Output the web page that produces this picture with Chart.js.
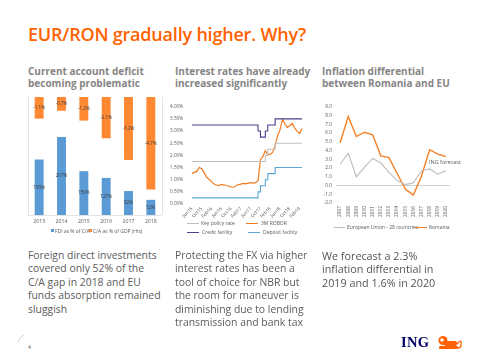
<!DOCTYPE html>
<html><head><meta charset="utf-8">
<script src="https://cdn.jsdelivr.net/npm/chart.js@4"></script>
<style>
html,body{margin:0;padding:0}
body{width:480px;height:360px;background:#fff;position:relative;overflow:hidden;font-family:'Open Sans',sans-serif}
.abs{position:absolute;white-space:nowrap}
#title{left:28px;top:22px;font-size:18px;font-weight:600;color:#FF6200;letter-spacing:-0.2px}
.sub{font-size:10px;font-weight:700;color:#858585;line-height:11.5px;top:66px}
.para{font-size:10.4px;color:#5c5c5c;line-height:13.4px;top:249px}
.leg{font-size:5px;color:#595959;line-height:6px}
.sw{position:absolute}
canvas{position:absolute}
</style>
</head><body>
<div id="title" class="abs">EUR/RON gradually higher. Why?</div>
<div class="abs sub" style="left:28px">Current account deficit<br>becoming problematic</div>
<div class="abs sub" style="left:175px">Interest rates have already<br>increased significantly</div>
<div class="abs sub" style="left:322px">Inflation differential<br>between Romania and EU</div>

<canvas id="c1" width="150" height="138" style="left:20px;top:90px;width:150px;height:138px"></canvas>
<canvas id="c2" width="142" height="130" style="left:165px;top:95px;width:142px;height:130px"></canvas>
<canvas id="c3" width="146" height="125" style="left:312px;top:100px;width:146px;height:125px"></canvas>

<div class="sw" style="left:51px;top:229px;width:3px;height:3px;background:#5B9BD5"></div>
<div class="abs leg" style="left:55px;top:228px">FDI as % of C/A</div>
<div class="sw" style="left:89px;top:229px;width:3px;height:3px;background:#FF8833"></div>
<div class="abs leg" style="left:93px;top:228px">C/A as % of GDP (rhs)</div>

<div class="sw" style="left:187px;top:223px;width:12px;height:1px;background:#C0C0C0"></div>
<div class="abs leg" style="left:201px;top:220px">Key policy rate</div>
<div class="sw" style="left:246px;top:223px;width:12px;height:1px;background:#F47A20"></div>
<div class="abs leg" style="left:261px;top:220px">3M ROBOR</div>
<div class="sw" style="left:187px;top:232px;width:12px;height:1px;background:#45448F"></div>
<div class="abs leg" style="left:202px;top:229px">Credit facility</div>
<div class="sw" style="left:248px;top:232px;width:12px;height:1px;background:#5AA7D6"></div>
<div class="abs leg" style="left:263px;top:229px">Deposit facility</div>

<div class="sw" style="left:334px;top:227px;width:11px;height:1px;background:#BDBDBD"></div>
<div class="abs leg" style="left:347px;top:224px">European Union - 28 countries</div>
<div class="sw" style="left:415px;top:227px;width:12px;height:1px;background:#F58025"></div>
<div class="abs leg" style="left:429px;top:224px">Romania</div>
<div class="abs" style="left:429px;top:158px;font-size:5.5px;color:#595959">ING forecast</div>

<div class="abs para" style="left:28px">Foreign direct investments<br>covered only 52% of the<br>C/A gap in 2018 and EU<br>funds absorption remained<br>sluggish</div>
<div class="abs para" style="left:175px">Protecting the FX via higher<br>interest rates has been a<br>tool of choice for NBR but<br>the room for maneuver is<br>diminishing due to lending<br>transmission and bank tax</div>
<div class="abs para" style="left:322px;font-size:10.8px;color:#555">We forecast a 2.3%<br>inflation differential in<br>2019 and 1.6% in 2020</div>

<div class="abs" style="left:28px;top:344px;font-size:5px;color:#555">4</div>
<svg class="abs" style="left:16px;top:334px" width="10" height="10"><path d="M2 9 Q3 3 8 1" stroke="#ccc" stroke-width="0.8" fill="none"/></svg>
<div class="abs" style="left:401px;top:334px;font-family:'Liberation Serif','DejaVu Serif',serif;font-weight:700;font-size:14.5px;color:#000066;letter-spacing:0.3px">ING</div>
<svg class="abs" style="left:436px;top:335px" width="28" height="15" viewBox="0 0 28 15">
<g fill="#FF6200">
<circle cx="7" cy="5.5" r="4.5"/>
<rect x="8" y="6" width="13" height="5" rx="2"/>
<rect x="3" y="11" width="19" height="3" rx="1.2"/>
</g>
<path d="M21 9 Q26 3 25 10 Q25 13 22 13" stroke="#FF6200" stroke-width="1.3" fill="none"/>
<circle cx="6" cy="5" r="1.8" fill="#fff"/>
</svg>

<script>
const caYears = ['2013','2014','2015','2016','2017','2018'];
const fdiCoverage = [190, 267, 150, 127, 82, 52];
const caPctGdp = [-1.1, -0.7, -1.2, -2.1, -3.2, -4.7];
const fdiLabels = ['190%','267%','150%','127%','82%','52%'];
const caLabels = ['-1.1%','-0.7%','-1.2%','-2.1%','-3.2%','-4.7%'];

const rateMonths = ['Jun15','Jul15','Aug15','Sep15','Oct15','Nov15','Dec15','Jan16','Feb16','Mar16','Apr16','May16',
 'Jun16','Jul16','Aug16','Sep16','Oct16','Nov16','Dec16','Jan17','Feb17','Mar17','Apr17','May17',
 'Jun17','Jul17','Aug17','Sep17','Oct17','Nov17','Dec17','Jan18','Feb18','Mar18','Apr18','May18',
 'Jun18','Jul18','Aug18','Sep18','Oct18','Nov18','Dec18','Jan19','Feb19','Mar19'];
const keyPolicyRate = [1.75,1.75,1.75,1.75,1.75,1.75,1.75,1.75,1.75,1.75,1.75,1.75,
 1.75,1.75,1.75,1.75,1.75,1.75,1.75,1.75,1.75,1.75,1.75,1.75,
 1.75,1.75,1.75,1.75,1.75,1.75,1.75,2.00,2.25,2.25,2.25,2.50,
 2.50,2.50,2.50,2.50,2.50,2.50,2.50,2.50,2.50,2.50];
const robor3m = [1.26,1.30,1.34,1.50,1.45,1.28,1.10,1.02,0.92,0.82,0.78,0.76,
 0.80,0.79,0.76,0.74,0.70,0.69,0.75,0.80,0.82,0.85,0.83,0.86,
 0.88,0.86,0.88,0.95,1.82,1.95,2.20,2.02,2.05,2.12,2.40,2.80,
 3.05,3.48,3.30,3.15,3.22,3.32,3.12,3.00,2.90,3.10];
const creditFacility = [3.25,3.25,3.25,3.25,3.25,3.25,3.25,3.25,3.25,3.25,3.25,3.25,
 3.25,3.25,3.25,3.25,3.25,3.25,3.25,3.25,3.25,3.25,3.25,3.25,
 3.25,3.25,3.25,3.25,3.00,2.75,2.75,3.00,3.25,3.25,3.25,3.50,
 3.50,3.50,3.50,3.50,3.50,3.50,3.50,3.50,3.50,3.50];
const depositFacility = [0.25,0.25,0.25,0.25,0.25,0.25,0.25,0.25,0.25,0.25,0.25,0.25,
 0.25,0.25,0.25,0.25,0.25,0.25,0.25,0.25,0.25,0.25,0.25,0.25,
 0.25,0.25,0.25,0.25,0.50,0.75,0.75,1.00,1.25,1.25,1.25,1.50,
 1.50,1.50,1.50,1.50,1.50,1.50,1.50,1.50,1.50,1.50];

const inflYears = ['2007','2008','2009','2010','2011','2012','2013','2014','2015','2016','2017','2018','2019','2020'];
const euInflation = [2.4, 3.7, 1.0, 2.1, 3.1, 2.6, 1.5, 0.6, 0.1, 0.3, 1.7, 1.9, 1.3, 1.7];
const roInflation = [4.9, 7.9, 5.6, 6.1, 5.8, 3.4, 3.2, 1.4, -0.4, -1.1, 1.1, 4.1, 3.6, 3.3];

const FONT = "'Open Sans', sans-serif";
const tickGrey = '#595959';
function zeroXPad(s){ s.paddingLeft = 0; s.paddingRight = 0; }

const barLabelPlugin = {
  id: 'barLabels',
  afterDatasetsDraw(chart){
    const ctx = chart.ctx;
    const sets = [fdiLabels, caLabels];
    ctx.save();
    ctx.font = "4.6px " + FONT;
    ctx.fillStyle = '#3a3a3a';
    ctx.textAlign = 'center';
    ctx.textBaseline = 'middle';
    chart.data.datasets.forEach((ds, di) => {
      chart.getDatasetMeta(di).data.forEach((el, i) => {
        ctx.fillText(sets[di][i], el.x, (el.y + el.base) / 2);
      });
    });
    ctx.restore();
  }
};
const framePlugin = {
  id: 'frame',
  beforeDatasetsDraw(chart){
    const a = chart.chartArea, ctx = chart.ctx;
    ctx.save();
    ctx.strokeStyle = '#E3E3E3';
    ctx.lineWidth = 1;
    ctx.beginPath();
    ctx.moveTo(Math.round(a.left)+0.5, a.top); ctx.lineTo(Math.round(a.left)+0.5, a.bottom);
    ctx.moveTo(Math.round(a.right)+0.5, a.top); ctx.lineTo(Math.round(a.right)+0.5, a.bottom);
    ctx.moveTo(a.left, Math.round(a.bottom)+0.5); ctx.lineTo(a.right, Math.round(a.bottom)+0.5);
    ctx.stroke();
    ctx.restore();
  }
};

new Chart(document.getElementById('c1'), {
  type: 'bar',
  data: {
    labels: caYears,
    datasets: [
      { data: fdiCoverage, yAxisID: 'y', backgroundColor: '#5B9BD5', grouped: false, barPercentage: 0.4, categoryPercentage: 1 },
      { data: caPctGdp, yAxisID: 'y2', backgroundColor: '#FF8833', grouped: false, barPercentage: 0.4, categoryPercentage: 1 }
    ]
  },
  options: {
    responsive: false, animation: false, devicePixelRatio: 1,
    layout: { padding: { left: 8, right: 8, top: 7, bottom: 0 } },
    plugins: { legend: { display: false }, tooltip: { enabled: false } },
    scales: {
      x: { grid: { display: false, drawTicks: false }, border: { display: false },
           ticks: { font: { size: 5.2, family: FONT }, color: tickGrey, padding: 3 },
           afterFit(s){ s.height = 13; zeroXPad(s); } },
      y: { display: false, min: 0, max: 404 },
      y2: { display: false, min: -6, max: 0 }
    }
  },
  plugins: [framePlugin, barLabelPlugin]
});

const lineCommon = { pointRadius: 0, borderWidth: 1.1, fill: false, tension: 0 };
new Chart(document.getElementById('c2'), {
  type: 'line',
  data: {
    labels: rateMonths,
    datasets: [
      { ...lineCommon, data: keyPolicyRate, borderColor: '#C0C0C0', stepped: 'after' },
      { ...lineCommon, data: creditFacility, borderColor: '#45448F', stepped: 'after' },
      { ...lineCommon, data: depositFacility, borderColor: '#5AA7D6', stepped: 'after' },
      { ...lineCommon, data: robor3m, borderColor: '#F47A20', borderWidth: 1.2 }
    ]
  },
  options: {
    responsive: false, animation: false, devicePixelRatio: 1,
    layout: { padding: { left: 0, right: 5, top: 8, bottom: 0 } },
    plugins: { legend: { display: false }, tooltip: { enabled: false } },
    scales: {
      x: { offset: false, grid: { display: false, drawTicks: false }, border: { display: false },
           ticks: { autoSkip: false, maxRotation: 45, minRotation: 45, padding: 2,
                    font: { size: 4.6, family: FONT }, color: tickGrey,
                    callback: (v, i) => (i % 4 === 0 ? rateMonths[i] : null) },
           afterFit(s){ s.height = 21; zeroXPad(s); } },
      y: { min: 0, max: 4, grid: { display: false, drawTicks: false }, border: { display: false },
           ticks: { autoSkip: false, stepSize: 0.5, padding: 9, font: { size: 4.6, family: FONT }, color: tickGrey,
                    callback: v => v.toFixed(2) + '%' },
           afterFit(s){ s.width = 27; } }
    }
  }
});

new Chart(document.getElementById('c3'), {
  type: 'line',
  data: {
    labels: inflYears,
    datasets: [
      { ...lineCommon, data: euInflation, borderColor: '#BDBDBD', borderWidth: 1.1 },
      { ...lineCommon, data: roInflation, borderColor: '#F58025', borderWidth: 1.4 }
    ]
  },
  options: {
    responsive: false, animation: false, devicePixelRatio: 1,
    layout: { padding: { left: 0, right: 8, top: 3, bottom: 0 } },
    plugins: { legend: { display: false }, tooltip: { enabled: false } },
    scales: {
      x: { offset: true, grid: { display: false, drawTicks: false }, border: { display: false },
           ticks: { autoSkip: false, maxRotation: 90, minRotation: 90, padding: 3,
                    font: { size: 4.8, family: FONT }, color: tickGrey },
           afterFit(s){ s.height = 22; zeroXPad(s); } },
      y: { min: -2, max: 9, border: { display: false },
           grid: { drawTicks: false, color: c => (c.tick && c.tick.value === 0 ? '#D0D0D0' : 'rgba(0,0,0,0)') },
           ticks: { autoSkip: false, stepSize: 1, padding: 4, font: { size: 4.8, family: FONT }, color: tickGrey,
                    callback: v => v.toFixed(1) },
           afterFit(s){ s.width = 24; } }
    }
  }
});
</script>
</body></html>
